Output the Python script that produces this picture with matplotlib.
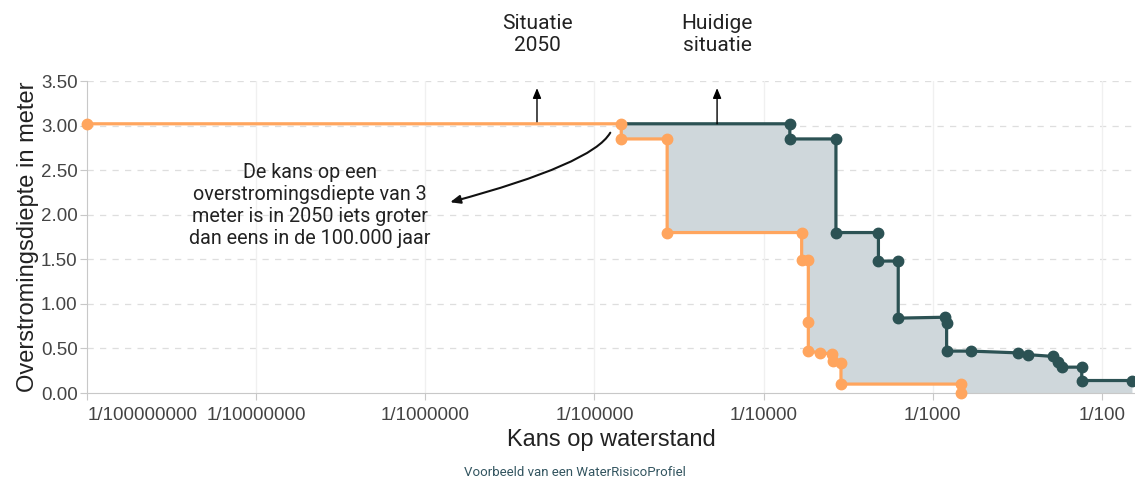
import matplotlib
matplotlib.use("Agg")
import matplotlib.pyplot as plt
from matplotlib.ticker import FixedLocator, NullLocator

kans_2050 = [1e-8, 1.44e-5, 1.44e-5, 2.69e-5, 2.69e-5, 1.68e-4, 1.68e-4, 1.84e-4,
             1.84e-4, 1.84e-4, 2.16e-4, 2.53e-4, 2.58e-4, 2.87e-4, 2.87e-4,
             1.47e-3, 1.47e-3]
diepte_2050 = [3.02, 3.02, 2.85, 2.85, 1.80, 1.80, 1.49, 1.49,
               0.80, 0.47, 0.45, 0.44, 0.36, 0.34, 0.10,
               0.10, 0.00]

kans_nu = [1.44e-5, 1.43e-4, 1.43e-4, 2.68e-4, 2.68e-4, 4.78e-4, 4.78e-4, 6.26e-4,
           6.26e-4, 1.18e-3, 1.21e-3, 1.21e-3, 1.69e-3, 3.21e-3, 3.68e-3,
           5.18e-3, 5.54e-3, 5.80e-3, 7.62e-3, 7.62e-3, 1.52e-2]
diepte_nu = [3.02, 3.02, 2.85, 2.85, 1.80, 1.80, 1.48, 1.48,
             0.84, 0.85, 0.79, 0.47, 0.47, 0.45, 0.43,
             0.41, 0.35, 0.29, 0.29, 0.14, 0.14]

x_ticks = [1e-8, 1e-7, 1e-6, 1e-5, 1e-4, 1e-3, 1e-2]
x_labels = ["1/100000000", "1/10000000", "1/1000000", "1/100000",
            "1/10000", "1/1000", "1/100"]
y_ticks = [0.0, 0.5, 1.0, 1.5, 2.0, 2.5, 3.0, 3.5]

oranje = "#ffa55e"
donker = "#2c5254"
vlak = "#cfd7db"

fig = plt.figure(figsize=(11.35, 4.8), dpi=100)
ax = fig.add_axes([0.0769, 0.18125, 0.9231, 0.65])

ax.set_xscale("log")
ax.set_xlim(1e-8, 10 ** -1.803)
ax.set_ylim(0, 3.5)

# grijs vlak tussen huidige situatie en 2050
start = kans_2050.index(kans_nu[0])
poly_x = kans_nu + [kans_nu[-1]] + kans_2050[::-1][:-start]
poly_y = diepte_nu + [0.0] + diepte_2050[::-1][:-start]
ax.fill(poly_x, poly_y, color=vlak, lw=0, zorder=1)

ax.plot(kans_nu, diepte_nu, color=donker, lw=2.3, marker="o", ms=7.5,
        markevery=list(range(1, len(kans_nu))), zorder=3, clip_on=False)
ax.plot(kans_2050, diepte_2050, color=oranje, lw=2.3, marker="o", ms=7.5,
        zorder=4, clip_on=False)

# assen en rasters
for s in ["top", "right"]:
    ax.spines[s].set_visible(False)
for s in ["left", "bottom"]:
    ax.spines[s].set_color("#c8c8c8")
ax.xaxis.set_major_locator(FixedLocator(x_ticks))
ax.xaxis.set_minor_locator(NullLocator())
ax.set_xticklabels(x_labels)
ax.set_yticks(y_ticks)
ax.set_yticklabels([f"{v:.2f}" for v in y_ticks])
ax.tick_params(axis="both", colors="#c8c8c8", labelcolor="#444444",
               labelsize=13.5, length=5)
ax.tick_params(axis="x", pad=5)
ax.tick_params(axis="y", pad=2)
for lab in ax.get_xticklabels() + ax.get_yticklabels():
    lab.set_family("Liberation Sans")
ax.get_xticklabels()[0].set_ha("left")
for v in y_ticks[1:]:
    ax.axhline(v, color="#dedede", lw=0.9, ls=(0, (5, 5)), zorder=0)
for v in x_ticks[1:]:
    ax.axvline(v, color="#f0f0f0", lw=1, zorder=0)

ax.set_ylabel("Overstromingsdiepte in meter", family="Liberation Sans",
              fontsize=17, color="#222222", labelpad=1)
ax.set_xlabel("Kans op waterstand", family="Liberation Sans",
              fontsize=17, color="#222222", labelpad=4)

# annotaties
pijl = dict(arrowstyle="-|>,head_length=0.6,head_width=0.25",
            color="black", lw=1, shrinkA=0, shrinkB=0)
ax.annotate("", xy=(4.57e-6, 3.42), xytext=(4.57e-6, 3.02),
            arrowprops=pijl, annotation_clip=False)
ax.annotate("", xy=(5.31e-5, 3.42), xytext=(5.31e-5, 3.02),
            arrowprops=pijl, annotation_clip=False)
kopfont = dict(family="Roboto", fontsize=15, color="#222222",
               ha="center", va="center", linespacing=1.2)
ax.text(4.57e-6, 4.02, "Situatie\n2050", clip_on=False, **kopfont)
ax.text(5.31e-5, 4.02, "Huidige\nsituatie", clip_on=False, **kopfont)

ax.annotate("", xy=(1.40e-6, 2.14), xytext=(1.24e-5, 2.92),
            arrowprops=dict(arrowstyle="-|>,head_length=0.6,head_width=0.25",
                            color="#111111", lw=1.5, shrinkA=0, shrinkB=0,
                            connectionstyle="angle3,angleA=-120,angleB=15"))
ax.text(2.07e-7, 2.10,
        "De kans op een\noverstromingsdiepte van 3\nmeter is in 2050 iets groter\n"
        "dan eens in de 100.000 jaar",
        family="Roboto", fontsize=14.2, color="#222222",
        ha="center", va="center", linespacing=1.2)

fig.text(575 / 1135, 1 - 472 / 480, "Voorbeeld van een WaterRisicoProfiel",
         family="Roboto", fontsize=9.5, color="#335560", ha="center", va="center")

fig.savefig("out.png", dpi=100)
